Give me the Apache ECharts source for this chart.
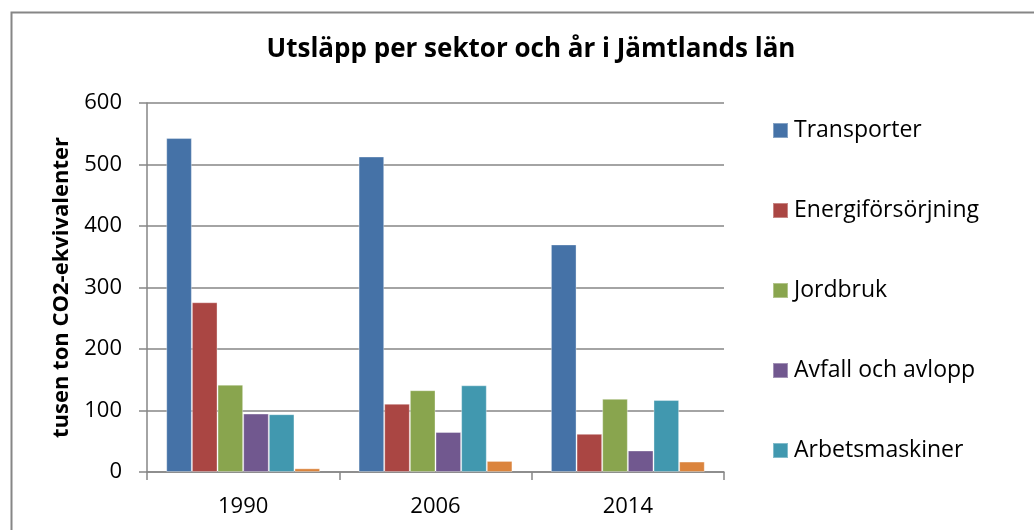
<!DOCTYPE html>
<html>
<head>
<meta charset="utf-8">
<script src="https://cdn.jsdelivr.net/npm/echarts@6/dist/echarts.min.js"></script>
<style>
html, body { margin: 0; padding: 0; background: #ffffff; }
#chart { width: 1034px; height: 530px; }
</style>
</head>
<body>
<div id="chart"></div>
<script>
// kategorier (år) och sektorer
var years = ['1990', '2006', '2014'];
var sectors = ['Transporter', 'Energiförsörjning', 'Jordbruk', 'Avfall och avlopp', 'Arbetsmaskiner', 'Industriprocesser'];

// utsläpp, tusen ton CO2-ekvivalenter
var transporter = [543, 513, 370];
var energi = [276, 111, 62];
var jordbruk = [142, 133, 119];
var avfall = [95, 65, 35];
var arbetsmaskiner = [94, 141, 117];
var industri = [6, 18, 17];

var yTicks = [0, 100, 200, 300, 400, 500, 600];

var colors = ['#4572A7', '#AA4643', '#89A54E', '#71588F', '#4198AF', '#DB843D'];
var allData = [transporter, energi, jordbruk, avfall, arbetsmaskiner, industri];

var font = 'Open Sans';

var series = [];
for (var i = 0; i < sectors.length; i++) {
    series.push({
        name: sectors[i],
        type: 'bar',
        data: allData[i],
        barGap: '0%',
        barCategoryGap: '20%',
        itemStyle: {
            color: colors[i],
            borderColor: 'rgba(255,255,255,0.35)',
            borderWidth: 1
        }
    });
}

var myChart = echarts.init(document.getElementById('chart'));
var option = {
    animation: false,
    color: colors,
    title: {
        text: 'Utsläpp per sektor och år i Jämtlands län',
        left: 526,
        textAlign: 'center',
        top: 32,
        textStyle: {
            fontFamily: font,
            fontWeight: 'bold',
            fontSize: 26,
            color: '#000000'
        }
    },
    legend: {
        orient: 'vertical',
        left: 767,
        top: 114,
        itemWidth: 15,
        itemHeight: 15,
        itemGap: 57,
        data: sectors.slice(0, 5),
        icon: 'rect',
        textStyle: {
            fontFamily: font,
            fontSize: 23,
            color: '#000000',
            padding: [0, 0, 0, 1]
        }
    },
    grid: {
        left: 147,
        top: 103,
        width: 577,
        height: 369,
        containLabel: false
    },
    xAxis: {
        type: 'category',
        data: years,
        axisLine: { lineStyle: { color: '#868686', width: 1.5 } },
        axisTick: { show: true, length: 8, lineStyle: { color: '#868686', width: 1.5 } },
        axisLabel: {
            fontFamily: font,
            fontSize: 22,
            color: '#000000',
            margin: 24
        }
    },
    yAxis: {
        type: 'value',
        min: 0,
        max: 600,
        interval: 100,
        name: 'tusen ton CO2-ekvivalenter',
        nameLocation: 'middle',
        nameGap: 74,
        nameRotate: 90,
        nameTextStyle: {
            fontFamily: font,
            fontWeight: 'bold',
            fontSize: 22,
            color: '#000000'
        },
        axisLine: { show: true, lineStyle: { color: '#868686', width: 1.5 } },
        axisTick: { show: true, length: 8, lineStyle: { color: '#868686', width: 1.5 } },
        splitLine: { show: true, lineStyle: { color: '#868686', width: 1.5 } },
        axisLabel: {
            fontFamily: font,
            fontSize: 22,
            color: '#000000',
            margin: 25,
            formatter: function (v) { return yTicks.indexOf(v) >= 0 ? String(v) : ''; }
        }
    },
    graphic: [{
        type: 'rect',
        left: 9,
        top: 10,
        shape: { width: 1100, height: 600 },
        style: { fill: 'none', stroke: '#868686', lineWidth: 2 },
        silent: true
    }],
    series: series
};
myChart.setOption(option);
</script>
</body>
</html>
